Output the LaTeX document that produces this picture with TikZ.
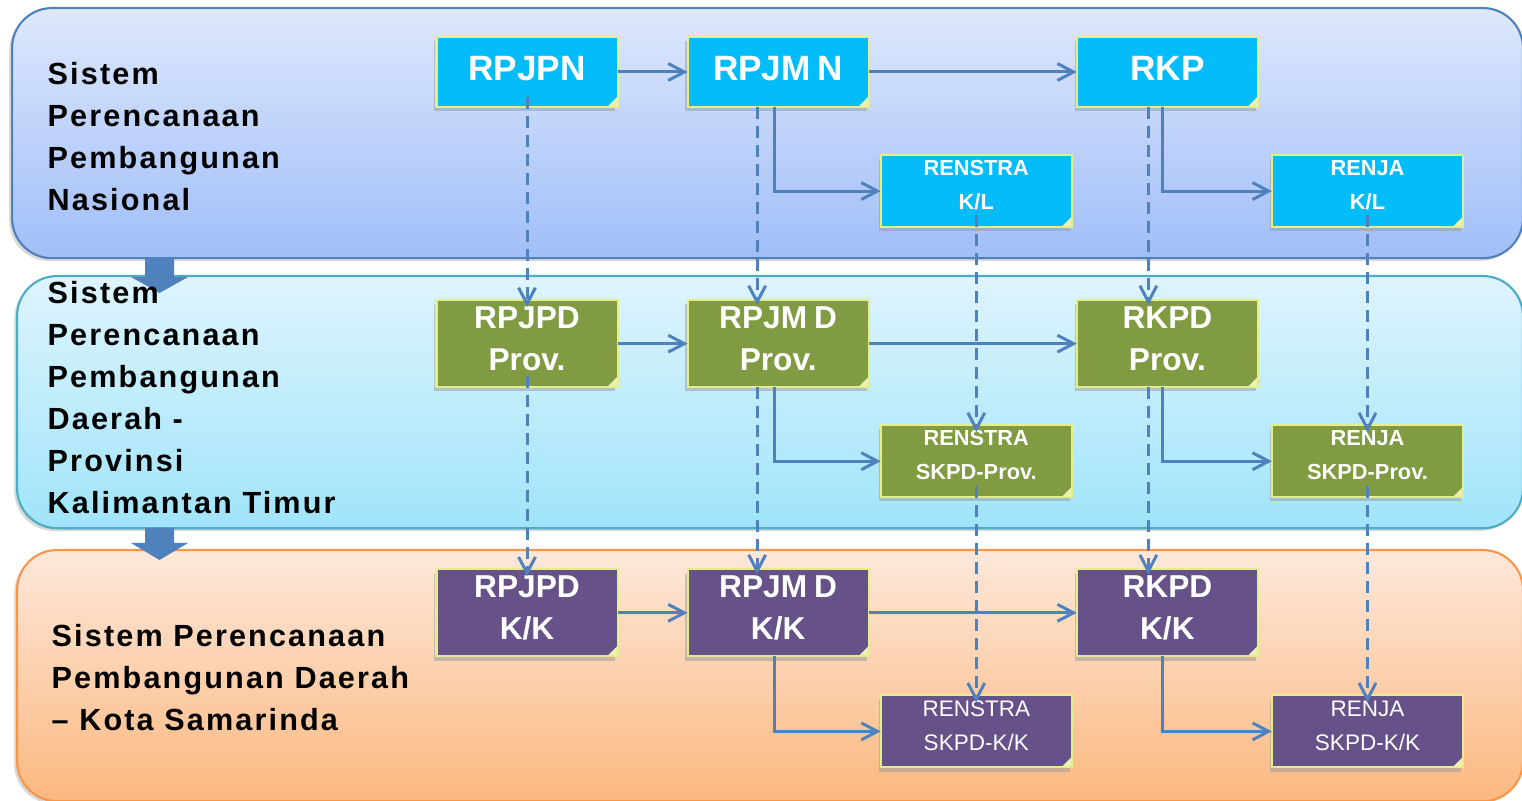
\documentclass[tikz,border=0pt]{standalone}
\usepackage{fontspec}
\setmainfont{Liberation Sans}
\setsansfont{Liberation Sans}
\newfontfamily\bandfont[LetterSpace=7]{Liberation Sans}
\usetikzlibrary{arrows.meta, positioning, shadows}

\definecolor{linkblue}{RGB}{79,129,189}
\definecolor{edgeyellow}{RGB}{228,238,140}
\definecolor{foldyellow}{RGB}{236,240,176}
\definecolor{natfill}{RGB}{4,188,250}
\definecolor{provfill}{RGB}{128,155,65}
\definecolor{kkfill}{RGB}{103,81,137}

\begin{document}
\begin{tikzpicture}[
        x=0.01cm, y=-0.01cm,
        node distance=0.7cm,
        band/.style={rectangle, rounded corners=0.4cm, line width=0.6pt, anchor=north west, inner sep=0pt,
                     drop shadow={shadow xshift=-0.8pt, shadow yshift=-0.8pt, fill=black!30}},
        bandtext/.style={anchor=north west, inner sep=0pt, align=left,
                         font=\bandfont\bfseries\fontsize{8.7}{11.95}\selectfont},
        fold/.style={path picture={\fill[foldyellow] ([xshift=-3pt]path picture bounding box.south east)
                     -- ([yshift=3pt]path picture bounding box.south east)
                     -- (path picture bounding box.south east) -- cycle;}},
        plan/.style={rectangle, draw=edgeyellow, line width=0.6pt, text=white, align=center, inner sep=0pt,
                     outer sep=0pt, fold,
                     drop shadow={shadow xshift=-0.6pt, shadow yshift=-1.2pt, fill=black!40}},
        bigplan/.style={plan, minimum width=1.81cm, minimum height=0.87cm, text depth=2.8pt,
                        font=\bfseries\fontsize{9}{12}\selectfont},
        topplan/.style={bigplan, minimum height=0.70cm, text depth=1.8pt, font=\bfseries\fontsize{10}{12}\selectfont},
        smallplan/.style={plan, minimum width=1.91cm, minimum height=0.72cm, text depth=3.4pt,
                          font=\bfseries\fontsize{6.2}{9.7}\selectfont},
        natplan/.style={fill=natfill},
        provplan/.style={fill=provfill},
        kkplan/.style={fill=kkfill},
        flow/.style={draw=linkblue, line width=0.85pt, -{Straight Barb[length=4.6pt, width=4.8pt]}},
        link/.style={flow, dash pattern=on 3.4pt off 2pt},
        blockarrow/.style={fill=linkblue}
    ]
        \useasboundingbox (0,0) rectangle (1522,801);

        % bands
        \node[band, draw={rgb,255:red,79;green,129;blue,189}, top color={rgb,255:red,222;green,232;blue,252},
              bottom color={rgb,255:red,160;green,190;blue,248}, minimum width=15.10cm, minimum height=2.50cm] (natband) at (11,7) {};
        \node[band, draw={rgb,255:red,75;green,172;blue,198}, top color={rgb,255:red,222;green,244;blue,252},
              bottom color={rgb,255:red,160;green,228;blue,250}, minimum width=15.05cm, minimum height=2.52cm] (provband) at (16,275) {};
        \node[band, draw={rgb,255:red,247;green,150;blue,70}, top color={rgb,255:red,253;green,232;blue,218},
              bottom color={rgb,255:red,251;green,184;blue,128}, minimum width=15.05cm, minimum height=2.51cm] (kkband) at (16,549) {};

        \fill[blockarrow] (145,258) -- ++(29,0) -- ++(0,19) -- ++(14,0) -- ++(-28.5,16) -- ++(-28.5,-16) -- ++(14,0) -- cycle;
        \fill[blockarrow] (145,528) -- ++(29,0) -- ++(0,15) -- ++(14,0) -- ++(-28.5,17) -- ++(-28.5,-17) -- ++(14,0) -- cycle;

        \node[bandtext] (nastext) at (47,62) {Sistem\\Perencanaan\\Pembangunan\\Nasional};
        \node[bandtext] (provtext) at (47,281) {Sistem\\Perencanaan\\Pembangunan\\Daerah -\\Provinsi\\Kalimantan Timur};
        \node[bandtext] (kktext) at (51,624) {Sistem Perencanaan\\Pembangunan Daerah\\– Kota Samarinda};

        % nasional
        \node[topplan, natplan] (rpjpn) at (527,72) {RPJPN};
        \node[topplan, natplan, right=of rpjpn] (rpjmn) {RPJM\kern2pt N};
        \node[topplan, natplan, right=2.08cm of rpjmn] (rkp) {RKP};
        \node[smallplan, natplan, below right=0.48cm and 0.12cm of rpjmn] (renstrakl) {RENSTRA\\K/L};
        \node[smallplan, natplan, below right=0.48cm and 0.14cm of rkp] (renjakl) {RENJA\\K/L};

        % provinsi
        \node[bigplan, provplan, below=1.93cm of rpjpn] (rpjpdprov) {RPJPD\\Prov.};
        \node[bigplan, provplan, right=of rpjpdprov] (rpjmdprov) {RPJM\kern2pt D\\Prov.};
        \node[bigplan, provplan, right=2.08cm of rpjmdprov] (rkpdprov) {RKPD\\Prov.};
        \node[smallplan, provplan, below right=0.38cm and 0.12cm of rpjmdprov] (renstraprov) {RENSTRA\\SKPD-Prov.};
        \node[smallplan, provplan, below right=0.38cm and 0.14cm of rkpdprov] (renjaprov) {RENJA\\SKPD-Prov.};

        % kota
        \node[bigplan, kkplan, below=1.82cm of rpjpdprov] (rpjpdkk) {RPJPD\\K/K};
        \node[bigplan, kkplan, right=of rpjpdkk] (rpjmdkk) {RPJM\kern2pt D\\K/K};
        \node[bigplan, kkplan, right=2.08cm of rpjmdkk] (rkpdkk) {RKPD\\K/K};
        \node[smallplan, kkplan, font=\fontsize{6.4}{9.7}\selectfont, below right=0.39cm and 0.12cm of rpjmdkk] (renstrakk) {RENSTRA\\SKPD-K/K};
        \node[smallplan, kkplan, font=\fontsize{6.4}{9.7}\selectfont, below right=0.39cm and 0.14cm of rkpdkk] (renjakk) {RENJA\\SKPD-K/K};

        % within each level
        \draw[flow] (rpjpn) -- (rpjmn);
        \draw[flow] (rpjmn) -- (rkp);
        \draw[flow] ([xshift=-0.04cm]rpjmn.south) |- (renstrakl);
        \draw[flow] ([xshift=-0.05cm]rkp.south) |- (renjakl);

        \draw[flow] (rpjpdprov) -- (rpjmdprov);
        \draw[flow] (rpjmdprov) -- (rkpdprov);
        \draw[flow] ([xshift=-0.04cm]rpjmdprov.south) |- (renstraprov);
        \draw[flow] ([xshift=-0.05cm]rkpdprov.south) |- (renjaprov);

        \draw[flow] (rpjpdkk) -- (rpjmdkk);
        \draw[flow] (rpjmdkk) -- (rkpdkk);
        \draw[flow] ([xshift=-0.04cm]rpjmdkk.south) |- (renstrakk);
        \draw[flow] ([xshift=-0.05cm]rkpdkk.south) |- (renjakk);

        % between levels
        \draw[link] ([yshift=0.1cm]rpjpn.south) -- ([yshift=-0.07cm]rpjpdprov.north);
        \draw[link] ([xshift=-0.21cm]rpjmn.south) -- ([shift={(-0.21cm,-0.05cm)}]rpjmdprov.north);
        \draw[link] ([xshift=-0.19cm]rkp.south) -- ([shift={(-0.19cm,-0.05cm)}]rkpdprov.north);
        \draw[link] ([yshift=0.12cm]renstrakl.south) -- ([yshift=-0.07cm]renstraprov.north);
        \draw[link] ([yshift=0.12cm]renjakl.south) -- ([yshift=-0.07cm]renjaprov.north);

        \draw[link] ([yshift=0.11cm]rpjpdprov.south) -- ([yshift=-0.07cm]rpjpdkk.north);
        \draw[link] ([xshift=-0.21cm]rpjmdprov.south) -- ([shift={(-0.21cm,-0.05cm)}]rpjmdkk.north);
        \draw[link] ([xshift=-0.19cm]rkpdprov.south) -- ([shift={(-0.19cm,-0.05cm)}]rkpdkk.north);
        \draw[link] ([yshift=0.11cm]renstraprov.south) -- ([yshift=-0.07cm]renstrakk.north);
        \draw[link] ([yshift=0.11cm]renjaprov.south) -- ([yshift=-0.07cm]renjakk.north);
    \end{tikzpicture}
\end{document}
